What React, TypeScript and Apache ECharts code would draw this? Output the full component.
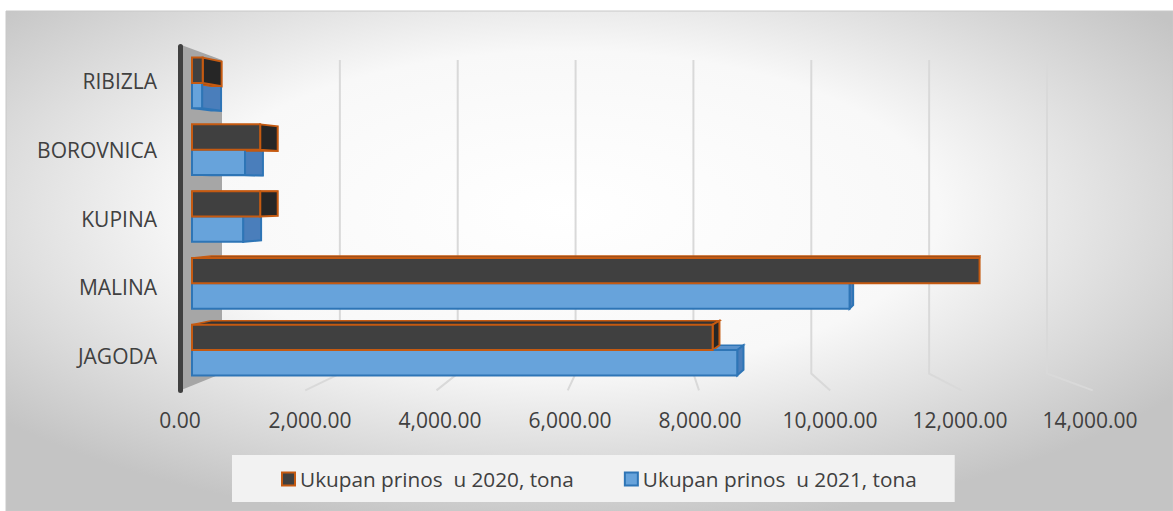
import React, { useEffect, useRef } from "react";
import * as echarts from "echarts";

const categories = ["JAGODA", "MALINA", "KUPINA", "BOROVNICA", "RIBIZLA"];
const yield2020 = [8250, 12480, 1080, 1080, 170];
const yield2021 = [8640, 10420, 810, 840, 160];
const xTicks = [0, 2000, 4000, 6000, 8000, 10000, 12000, 14000];
const seriesNames = ["Ukupan prinos  u 2020, tona", "Ukupan prinos  u 2021, tona"];

const FONT = "'Open Sans', 'Noto Sans', sans-serif";
const TEXT = "#404040";

const DARK = { front: "#404040", side: "#262626", top: "#333333", stroke: "#C55A11" };
const BLUE = { front: "#67A3DB", side: "#4A7EBB", top: "#5A92CC", stroke: "#2E75B6" };

// oblique depth offsets (3D look)
const depthDx = (x: number) => Math.max(0, (19 * (1000 - x)) / 800);
const depthDy = (y: number) => -0.03 * (y - 191);

function barGeom(params: any, api: any, isTop: boolean) {
  const v = api.value(0);
  const c = api.value(1);
  const base = api.coord([0, c]);
  const end = api.coord([v, c]);
  const band = api.size([0, 1])[1];
  const h = band * 0.38;
  const y0 = isTop ? base[1] - h : base[1];
  const y1 = y0 + h;
  return { x0: base[0], x1: end[0], y0, y1, h };
}

function facesRenderer(isTop: boolean, col: any) {
  return (params: any, api: any) => {
    const { x0, x1, y0, y1 } = barGeom(params, api, isTop);
    const d0 = depthDx(x0);
    const d1 = depthDx(x1);
    const dt = depthDy(y0);
    const db = depthDy(y1);
    const children: any[] = [];
    if (dt < 0) {
      children.push({
        type: "polygon",
        shape: { points: [[x0, y0], [x1, y0], [x1 + d1, y0 + dt], [x0 + d0, y0 + dt]] },
        style: { fill: col.top, stroke: col.stroke, lineWidth: 1.5 },
      });
    }
    if (db > 0) {
      children.push({
        type: "polygon",
        shape: { points: [[x0, y1], [x1, y1], [x1 + d1, y1 + db], [x0 + d0, y1 + db]] },
        style: { fill: col.top, stroke: col.stroke, lineWidth: 1.5 },
      });
    }
    if (d1 > 0.5) {
      children.push({
        type: "polygon",
        shape: { points: [[x1, y0], [x1 + d1, y0 + dt], [x1 + d1, y1 + db], [x1, y1]] },
        style: { fill: col.side, stroke: col.stroke, lineWidth: 2 },
      });
    }
    return { type: "group", children };
  };
}

function frontRenderer(isTop: boolean, col: any) {
  return (params: any, api: any) => {
    const { x0, x1, y0, h } = barGeom(params, api, isTop);
    return {
      type: "rect",
      shape: { x: x0, y: y0, width: x1 - x0, height: h },
      style: { fill: col.front, stroke: col.stroke, lineWidth: 2 },
    };
  };
}

// front plane -> back wall mapping
function backX(cs: any, xf: number) {
  return cs.x + 42 + (xf - cs.x) * 0.9066;
}
function backY(cs: any, yf: number) {
  return cs.y + 13.4 + (yf - cs.y) * 0.912;
}

function gridRenderer(params: any, api: any) {
  const cs = params.coordSys;
  const v = api.value(0);
  const xf = api.coord([v, 0])[0];
  const bottom = cs.y + cs.height;
  const bx = backX(cs, xf);
  const xe = cs.x - 6 + (xf - cs.x) * 1.0096;
  return {
    type: "polyline",
    shape: { points: [[bx, backY(cs, cs.y)], [bx, backY(cs, bottom)], [xe, bottom]] },
    style: { stroke: "#D9D9D9", lineWidth: 2, fill: null },
  };
}

function wallRenderer(params: any, api: any) {
  const cs = params.coordSys;
  const bottom = cs.y + cs.height;
  const bx = backX(cs, cs.x);
  return {
    type: "polygon",
    shape: {
      points: [
        [cs.x, cs.y - 2],
        [bx, backY(cs, cs.y)],
        [bx, backY(cs, bottom)],
        [cs.x, bottom],
      ],
    },
    style: { fill: "#A6A6A6" },
  };
}

export default function App() {
  const ref = useRef<HTMLDivElement>(null);
  useEffect(() => {
    if (!ref.current) return;
    const chart = echarts.init(ref.current, null, { renderer: "svg" });
    const d2020 = categories.map((_, i) => [yield2020[i], i]);
    const d2021 = categories.map((_, i) => [yield2021[i], i]);
    const option: any = {
      animation: false,
      graphic: [
        {
          type: "rect",
          z: -10,
          silent: true,
          shape: { x: 6, y: 11, width: 1167, height: 500 },
          style: {
            fill: new echarts.graphic.RadialGradient(0.48, 0.4, 0.64, [
              { offset: 0, color: "#FFFFFF" },
              { offset: 0.5, color: "#F8F8F8" },
              { offset: 1, color: "#C4C4C4" },
            ]),
            stroke: "#C8C8C8",
            lineWidth: 1,
          },
        },
      ],
      legend: {
        left: 232,
        top: 455,
        padding: [12, 38, 11, 49],
        backgroundColor: "#F2F2F2",
        itemWidth: 13,
        itemHeight: 13,
        itemGap: 50,
        textStyle: { fontFamily: FONT, fontSize: 20.75, color: TEXT, lineHeight: 24 },
        data: [
          { name: seriesNames[0], icon: "rect", itemStyle: { color: DARK.front, borderColor: DARK.stroke, borderWidth: 2 } },
          { name: seriesNames[1], icon: "rect", itemStyle: { color: BLUE.front, borderColor: BLUE.stroke, borderWidth: 2 } },
        ],
      },
      grid: [
        { left: 192, right: 97.5, top: 49.6, bottom: 127.6 },
        { left: 180, right: 83, top: 46.6, bottom: 120.6 },
      ],
      xAxis: [
        { gridIndex: 0, type: "value", min: 0, max: 14000, show: false },
        {
          gridIndex: 1,
          type: "value",
          min: 0,
          max: 14000,
          interval: 2000,
          axisLine: { show: false },
          axisTick: { show: false },
          splitLine: { show: false },
          axisLabel: {
            margin: 18,
            fontFamily: FONT,
            fontSize: 21,
            color: TEXT,
            lineHeight: 24,
            formatter: (v: number) =>
              v.toLocaleString("en-US", { minimumFractionDigits: 2, maximumFractionDigits: 2 }),
          },
        },
      ],
      yAxis: [
        { gridIndex: 0, type: "category", data: categories, show: false },
        {
          gridIndex: 1,
          type: "category",
          data: categories,
          z: 5,
          axisLine: { show: true, lineStyle: { color: "#404040", width: 5, cap: "round" } },
          axisTick: { show: false },
          splitLine: { show: false },
          axisLabel: { margin: 23, fontFamily: FONT, fontSize: 21, color: TEXT },
        },
      ],
      series: [
        {
          type: "custom",
          name: "wall",
          xAxisIndex: 1,
          yAxisIndex: 1,
          z: 0,
          silent: true,
          clip: false,
          renderItem: wallRenderer,
          data: [[0, 0]],
          encode: { x: 0, y: 1 },
        },
        {
          type: "custom",
          name: "grid",
          xAxisIndex: 1,
          yAxisIndex: 1,
          z: 0,
          silent: true,
          clip: false,
          renderItem: gridRenderer,
          data: xTicks.slice(1).map((v) => [v, 0]),
          encode: { x: 0, y: 1 },
        },
        {
          type: "custom",
          name: seriesNames[1],
          xAxisIndex: 0,
          yAxisIndex: 0,
          z: 2,
          clip: false,
          itemStyle: { color: BLUE.front },
          renderItem: facesRenderer(false, BLUE),
          data: d2021,
          encode: { x: 0, y: 1 },
        },
        {
          type: "custom",
          name: seriesNames[0],
          xAxisIndex: 0,
          yAxisIndex: 0,
          z: 2,
          clip: false,
          itemStyle: { color: DARK.front },
          renderItem: facesRenderer(true, DARK),
          data: d2020,
          encode: { x: 0, y: 1 },
        },
        {
          type: "custom",
          name: seriesNames[1],
          xAxisIndex: 0,
          yAxisIndex: 0,
          z: 3,
          clip: false,
          itemStyle: { color: BLUE.front },
          renderItem: frontRenderer(false, BLUE),
          data: d2021,
          encode: { x: 0, y: 1 },
        },
        {
          type: "custom",
          name: seriesNames[0],
          xAxisIndex: 0,
          yAxisIndex: 0,
          z: 3,
          clip: false,
          itemStyle: { color: DARK.front },
          renderItem: frontRenderer(true, DARK),
          data: d2020,
          encode: { x: 0, y: 1 },
        },
      ],
    };
    chart.setOption(option);
    return () => chart.dispose();
  }, []);
  return (
    <div
      ref={ref}
      style={{ position: "absolute", left: 0, top: 0, width: 1173, height: 511 }}
    />
  );
}
